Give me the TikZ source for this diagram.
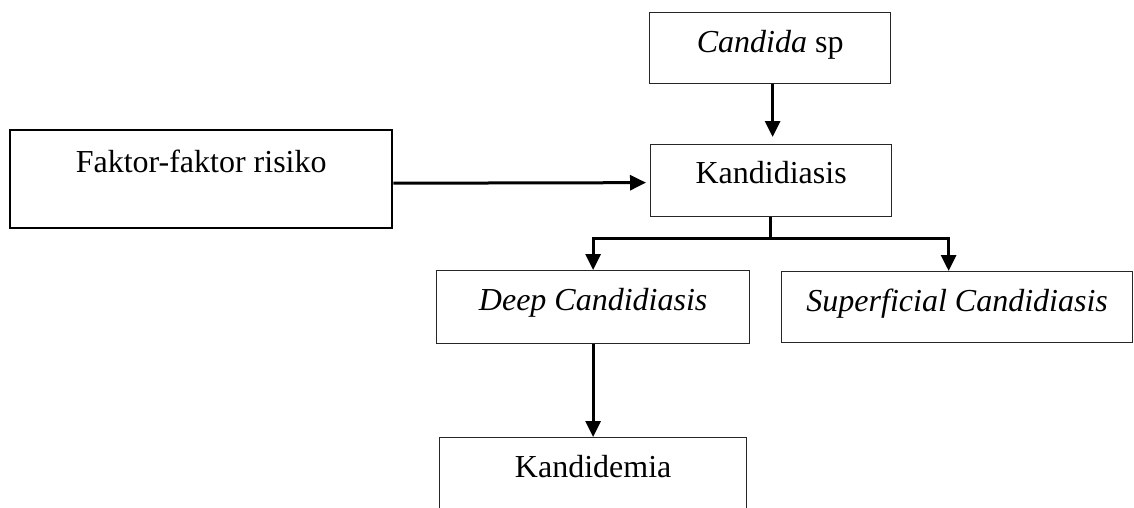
\documentclass[tikz,border=0pt]{standalone}
\usepackage{fontspec}
\setmainfont{Liberation Serif}
\usetikzlibrary{arrows.meta}
\begin{document}
\begin{tikzpicture}[x=1pt,y=-1pt,
  box/.style={draw=black!85, line width=1.3pt, inner sep=0pt, anchor=north west,
    font=\fontsize{32}{38}\selectfont},
  boldbox/.style={box, draw=black, line width=2.4pt},
  arr/.style={line width=3pt, -{Triangle[length=16pt,width=15pt]}},
  plain/.style={line width=3pt}]
\clip (0,0) rectangle (1134,507);
\fill[white] (0,0) rectangle (1134,507);
\node[box, minimum width=241pt, text height=40pt, text depth=31pt] (cand) at (649,12) {\textit{Candida} sp};
\node[box, minimum width=241pt, text height=39pt, text depth=33pt] (kand) at (650,144) {Kandidiasis};
\node[boldbox, minimum width=382pt, text height=42.5pt, text depth=55.5pt] (fak) at (9,129) {Faktor-faktor risiko};
\node[box, minimum width=313pt, text height=40pt, text depth=33pt] (deep) at (436,270) {\textit{Deep Candidiasis}};
\node[box, minimum width=351pt, text height=40pt, text depth=31pt] (sup) at (781,271) {\textit{Superficial Candidiasis}};
\node[box, minimum width=307pt, text height=39.5pt, text depth=60pt] (kdm) at (439,437) {Kandidemia};
\draw[arr] ([xshift=2.5pt]cand.south) -- ([xshift=1.5pt,yshift=7pt]kand.north);
\draw[arr] ([yshift=-4pt]fak.east) -- ([xshift=-4pt,yshift=-2pt]kand.west);
\coordinate (j) at ([xshift=-0.5pt,yshift=-21pt]kand.south);
\draw[plain] ([xshift=-0.5pt]kand.south) -- (j);
\draw[arr] (j) -| (deep.north);
\draw[arr] (j) -| ([xshift=-8.5pt]sup.north);
\draw[arr] (deep.south) -- (kdm.north);
\end{tikzpicture}
\end{document}
